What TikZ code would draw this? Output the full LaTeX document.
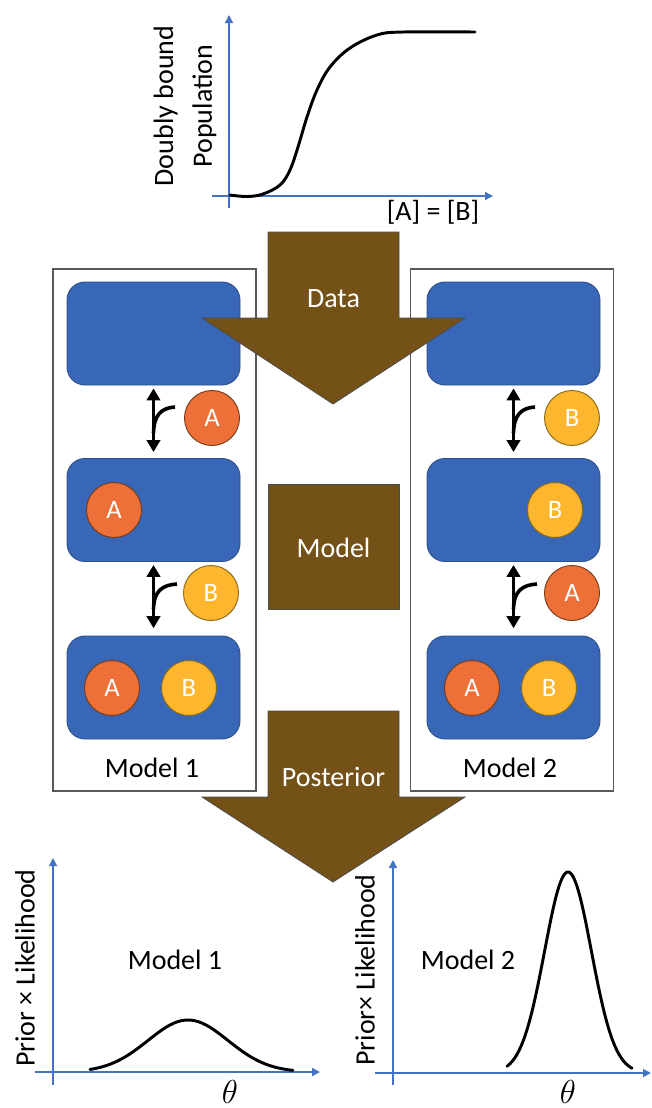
\documentclass[tikz,border=0pt]{standalone}
\usepackage{fontspec}
\setmainfont{Carlito}
\usetikzlibrary{arrows.meta}
\definecolor{boxblue}{HTML}{3767B6}
\definecolor{boxedge}{HTML}{2F528F}
\definecolor{ligA}{HTML}{EC7038}
\definecolor{ligAedge}{HTML}{7A3A14}
\definecolor{ligB}{HTML}{FDB62D}
\definecolor{ligBedge}{HTML}{8A6A1A}
\definecolor{flow}{HTML}{745217}
\definecolor{axisblue}{HTML}{4472C4}
\newcommand\bigtxt{\fontsize{21}{27}\selectfont}
\tikzset{
  state/.style={draw=boxedge, line width=0.7pt, fill=boxblue, rounded corners=13.5pt,
    minimum width=129.75pt, minimum height=77.25pt, inner sep=0pt},
  ligand/.style={circle, line width=0.7pt, minimum size=41.25pt, inner sep=0pt,
    text=white, font=\fontsize{20}{24}\selectfont},
  ligA/.style={ligand, draw=ligAedge, fill=ligA},
  ligB/.style={ligand, draw=ligBedge, fill=ligB},
  panel/.style={draw=black!65, line width=1.1pt, fill=white, inner sep=0pt,
    minimum width=152.25pt, minimum height=391.5pt},
  flowbox/.style={draw=black!70, line width=0.6pt, fill=flow},
  flowtxt/.style={text=white, font=\bigtxt},
  label/.style={text=black, font=\bigtxt},
  equil/.style={line width=2.7pt, {Triangle[length=9pt,width=10pt]}-{Triangle[length=9pt,width=10pt]}},
  branch/.style={line width=2.7pt},
  axis/.style={draw=axisblue, line width=1.1pt, -{Triangle[length=6pt,width=6pt]}},
  axisplain/.style={draw=axisblue, line width=1.1pt},
  curve/.style={line width=2.2pt, line join=round, line cap=round},
  thetalab/.style={inner sep=0pt, font=\fontsize{26}{28}\selectfont}
}
\begin{document}
\begin{tikzpicture}[x=0.75pt,y=-0.75pt]
\useasboundingbox (0,0) rectangle (652,1108);

% ---- titration curve ----
\draw[axisplain] (229,208) -- (229,196);
\draw[axis] (229,196) -- (229,15);
\draw[axis] (212,196) -- (493,196);
\draw[curve] plot[smooth, tension=0.6] coordinates {
  (230,195) (247,196.5) (263,194) (280,185) (290,170) (298,147) (307,117)
  (317,90) (330,67) (350,48) (377,35) (403,32) (475,32)};
\node[label, rotate=90, align=center] (ylabtop) at (185,106)
  {Doubly bound\\[2pt]Population};
\node[label] (xlabtop) at (433,212) {[A] = [B]};

% ---- model panels ----
\node[panel] (P1) at (154.5,530) {};
\node[panel] (P2) at (512,530) {};

% left model: A binds first, then B
\node[state] (L1) at (153.5,333.5) {};
\node[state] (L2) at (153.5,510) {};
\node[state] (L3) at (153.5,687.5) {};
\node[ligA] (a1) at (212,418) {A};
\node[ligA] (a2) at (114,510) {A};
\node[ligB] (b1) at (211,593) {B};
\node[ligA] (a3) at (112,688) {A};
\node[ligB] (b3) at (189,688) {B};
\draw[equil, shorten <=2.2pt, shorten >=4.5pt] (L1.south) -- (L2.north);
\draw[equil, shorten <=2.2pt, shorten >=5.5pt] (L2.south) -- (L3.north);
\coordinate (k1) at (153.5,433);
\coordinate (e1) at (175,407);
\coordinate (k2) at (153.5,609);
\coordinate (e2) at (177,584);
\draw[branch] (k1) .. controls (154,415) and (161,408) .. (e1);
\draw[branch] (k2) .. controls (154,591) and (162,585) .. (e2);
\node[label] (m1) at (152,768) {Model 1};

% right model: B binds first, then A
\node[state] (R1) at (513.5,333.5) {};
\node[state] (R2) at (513.5,510) {};
\node[state] (R3) at (513.5,687.5) {};
\node[ligB] (rb1) at (572,418) {B};
\node[ligB] (rb2) at (555,510) {B};
\node[ligA] (ra1) at (572,593) {A};
\node[ligA] (ra3) at (472,688) {A};
\node[ligB] (rb3) at (549,688) {B};
\draw[equil, shorten <=2.2pt, shorten >=4.5pt] (R1.south) -- (R2.north);
\draw[equil, shorten <=2.2pt, shorten >=5.5pt] (R2.south) -- (R3.north);
\coordinate (k3) at (513.5,433);
\coordinate (e3) at (535,407);
\coordinate (k4) at (513.5,609);
\coordinate (e4) at (537,584);
\draw[branch] (k3) .. controls (514,415) and (521,408) .. (e3);
\draw[branch] (k4) .. controls (514,591) and (522,585) .. (e4);
\node[label] (m2) at (510,768) {Model 2};

% ---- flow: data -> model -> posterior ----
\draw[flowbox] (268,232) -- (399,232) -- (399,318) -- (465,318) -- (333,404)
  -- (202,318) -- (268,318) -- cycle;
\node[flowtxt] (data) at (333.5,299) {Data};
\node[flowbox, minimum width=98.25pt, minimum height=93.75pt, inner sep=0pt]
  (model) at (333.5,546.5) {};
\node[flowtxt] (modeltxt) at (333.5,548) {Model};
\draw[flowbox] (268,711) -- (399,711) -- (399,797) -- (465,797) -- (333,882)
  -- (202,797) -- (268,797) -- cycle;
\node[flowtxt] (post) at (333.5,777) {Posterior};

% ---- posterior, model 1 ----
\draw[axisplain] (53,1085) -- (53,1072);
\draw[axis] (53,1072) -- (53,858);
\draw[axis] (35,1072) -- (320,1072);
\draw[curve] plot[domain=90:293, samples=90]
  (\x, {1072-52*exp(-((\x-188)^2)/3200)});
\node[label, rotate=90] (ylab1) at (25,968) {Prior × Likelihood};
\node[label] (pm1) at (175,960) {Model 1};
\node[thetalab] (th1) at (230,1092) {$\theta$};

% ---- posterior, model 2 ----
\draw[axisplain] (393,1085) -- (393,1073);
\draw[axis] (393,1073) -- (393,860);
\draw[axis] (375,1073) -- (651,1073);
\draw[curve] plot[domain=507:632, samples=90]
  (\x, {1073-201*exp(-((\x-568)^2)/1095)});
\node[label, rotate=90] (ylab2) at (365,970) {Prior× Likelihood};
\node[label] (pm2) at (468,960) {Model 2};
\node[thetalab] (th2) at (568,1092) {$\theta$};
\end{tikzpicture}
\end{document}
